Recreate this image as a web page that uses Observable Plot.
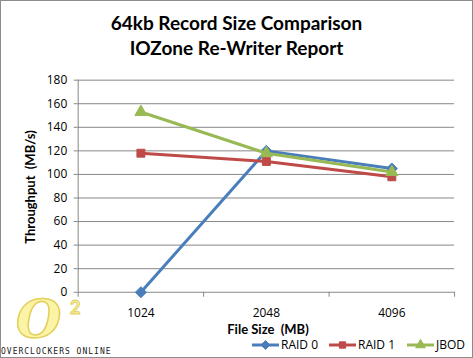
<!DOCTYPE html>
<html><head><meta charset="utf-8">
<script src="https://cdn.jsdelivr.net/npm/d3@7"></script>
<script src="https://cdn.jsdelivr.net/npm/@observablehq/plot@0.6"></script>
<style>
body{margin:0;background:#fff;font-family:Lato,"Open Sans",sans-serif;}
#wrap{position:relative;width:471px;height:356px;border:1px solid #8c8c8c;overflow:hidden;background:#fff;}
#wrap svg.plot{position:absolute;left:-1px;top:-1px;}
.t{position:absolute;white-space:nowrap;color:#000;}
</style></head>
<body><div id="wrap"></div>
<script>
const categories = ["1024", "2048", "4096"];
const seriesNames = ["RAID 0", "RAID 1", "JBOD"];
const raid0 = [0, 120, 105];
const raid1 = [118, 111, 98];
const jbod = [153, 118, 102];
const yTicks = [0, 20, 40, 60, 80, 100, 120, 140, 160, 180];
const colors = ["#4a7ebb", "#be4b48", "#98b954"];
const symbols = ["diamond2", "square", "triangle"];

const seriesVals = [raid0, raid1, jbod];
const bounds = d3.range(categories.length + 1).map(k => k - 0.5);

const seriesMarks = [];
seriesNames.forEach((s, si) => {
  const rows = categories.map((c, i) => ({series: s, i, cat: c, v: seriesVals[si][i]}));
  seriesMarks.push(Plot.line(rows, {x: "i", y: "v", stroke: colors[si], strokeWidth: 3, strokeLinejoin: "round"}));
  seriesMarks.push(Plot.dot(rows, {x: "i", y: "v", symbol: symbols[si], fill: colors[si], stroke: colors[si], strokeWidth: 1, r: si === 0 ? 5 : 4.5}));
});

const chart = Plot.plot({
  width: 473, height: 358,
  marginLeft: 78, marginRight: 17, marginTop: 80, marginBottom: 65,
  style: {fontFamily: "'Open Sans', Lato, sans-serif", fontSize: "12px", color: "#000", background: "transparent"},
  x: {type: "linear", domain: [-0.5, categories.length - 0.5]},
  y: {domain: [0, 180]},
  marks: [
    Plot.gridY(yTicks, {stroke: "#868686", strokeOpacity: 1, x1: -0.5, x2: categories.length - 0.5}),
    Plot.axisY({ticks: yTicks, tickSize: 4, tickPadding: 7, stroke: "#868686", label: null, fontSize: 12}),
    Plot.ruleX([-0.5], {stroke: "#868686", y1: 0, y2: 180}),
    Plot.axisX({ticks: bounds, tickSize: 5, tickFormat: () => "", stroke: "#868686", label: null}),
    Plot.axisX({ticks: d3.range(categories.length), tickSize: 0, tickPadding: 16, tickFormat: i => categories[i], label: null, fontSize: 12}),
    ...seriesMarks
  ]
});
chart.classList.add("plot");
const wrap = document.getElementById("wrap");

function addText(txt, css) {
  const d = document.createElement("div");
  d.className = "t"; d.textContent = txt;
  Object.assign(d.style, css);
  wrap.appendChild(d);
  return d;
}
// logo watermark (behind chart)
addText("O", {left: "15px", top: "292px", fontSize: "52px", lineHeight: "52px", fontStyle: "italic", fontWeight: "bold", color: "#fbf3a6", WebkitTextStroke: "1.5px #e3cf5a", fontFamily: "'DejaVu Serif', serif"});
addText("2", {left: "69px", top: "297px", fontSize: "18px", lineHeight: "18px", fontWeight: "bold", color: "#fbf3a6", WebkitTextStroke: "1px #e3cf5a"});
addText("OVERCLOCKERS ONLINE", {left: "0px", top: "346px", fontSize: "8px", lineHeight: "10px", letterSpacing: "1px", fontFamily: "'DejaVu Sans Mono', monospace", color: "#222"});

wrap.appendChild(chart);

addText("64kb Record Size Comparison", {left: "0", width: "471px", textAlign: "center", top: "10px", fontSize: "19px", fontWeight: "bold"});
addText("IOZone Re-Writer Report", {left: "0", width: "471px", textAlign: "center", top: "35px", fontSize: "19px", fontWeight: "bold"});
addText("Throughput  (MB/s)", {left: "29px", top: "186px", fontSize: "13px", fontWeight: "bold", whiteSpace: "pre", transform: "translate(-50%,-50%) rotate(-90deg)"});
addText("File Size  (MB)", {left: "267px", top: "328px", fontSize: "13px", fontWeight: "bold", whiteSpace: "pre", transform: "translate(-50%,-50%)"});

// legend
const legendPos = [250, 327, 405];
const legendSym = [d3.symbolDiamond2, d3.symbolSquare, d3.symbolTriangle];
seriesNames.forEach((s, k) => {
  const ns = "http://www.w3.org/2000/svg";
  const sv = document.createElementNS(ns, "svg");
  sv.setAttribute("width", 30); sv.setAttribute("height", 12);
  sv.style.position = "absolute"; sv.style.left = legendPos[k] + "px"; sv.style.top = "338px";
  const ln = document.createElementNS(ns, "line");
  ln.setAttribute("x1", 1); ln.setAttribute("x2", 28); ln.setAttribute("y1", 6); ln.setAttribute("y2", 6);
  ln.setAttribute("stroke", colors[k]); ln.setAttribute("stroke-width", 3);
  sv.appendChild(ln);
  const p = document.createElementNS(ns, "path");
  p.setAttribute("d", d3.symbol(legendSym[k], k === 0 ? 50 : 40)());
  p.setAttribute("transform", "translate(14.5,6)");
  p.setAttribute("fill", colors[k]);
  p.setAttribute("stroke", colors[k]);
  sv.appendChild(p);
  wrap.appendChild(sv);
  addText(s, {left: (legendPos[k] + 30) + "px", top: "336px", fontSize: "12px", lineHeight: "16px", fontFamily: "'Open Sans', Lato, sans-serif"});
});
</script></body></html>
